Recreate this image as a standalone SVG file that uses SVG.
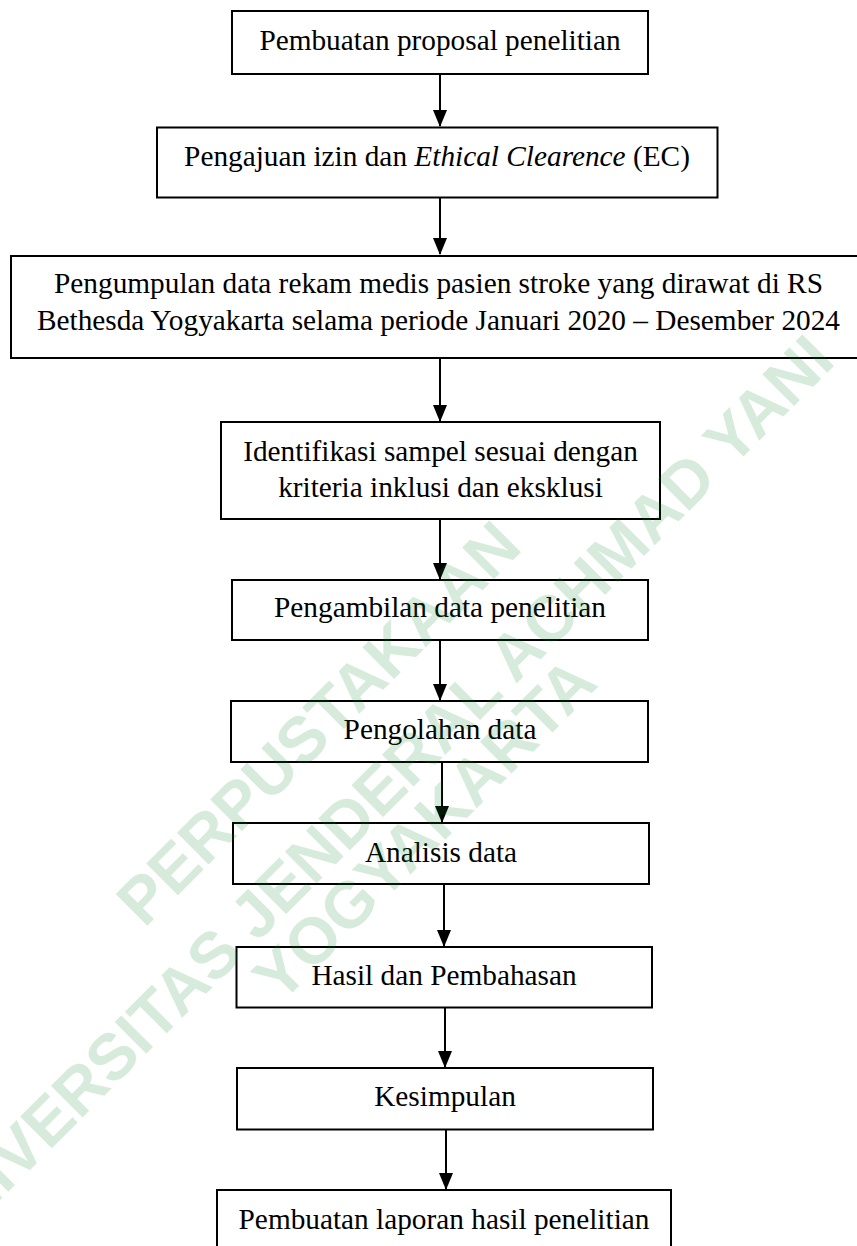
<svg xmlns="http://www.w3.org/2000/svg" width="857" height="1246" viewBox="0 0 857 1246">
<style>
  .box { fill: #ffffff; stroke: #000000; stroke-width: 2; }
  .lbl { font-family: "Liberation Serif", "Times New Roman", serif; font-size: 29.3px; fill: #000000; text-anchor: middle; }
  .conn { stroke: #000000; stroke-width: 2; fill: none; marker-end: url(#ah); }
  .wm { font-family: "Liberation Sans", Arial, sans-serif; font-weight: bold; font-size: 65px; fill: #0a8a2a; fill-opacity: 0.17; text-anchor: middle; }
</style>
<defs>
  <marker id="ah" viewBox="0 0 17 14" markerWidth="17" markerHeight="14" refX="16" refY="7" orient="auto" markerUnits="userSpaceOnUse">
    <path d="M0,0 L17,7 L0,14 z" fill="#000000"/>
  </marker>
</defs>
<rect x="0" y="0" width="857" height="1246" fill="#ffffff"/>

<g id="connectors">
  <line class="conn" x1="440" y1="75" x2="440" y2="126"/>
  <line class="conn" x1="440" y1="198" x2="440" y2="254"/>
  <line class="conn" x1="440" y1="359" x2="440" y2="421"/>
  <line class="conn" x1="440" y1="520" x2="440" y2="579"/>
  <line class="conn" x1="440" y1="641" x2="440" y2="700"/>
  <line class="conn" x1="442" y1="762" x2="442" y2="822"/>
  <line class="conn" x1="444" y1="884" x2="444" y2="946"/>
  <line class="conn" x1="445" y1="1008" x2="445" y2="1067"/>
  <line class="conn" x1="446" y1="1130" x2="446" y2="1189"/>
</g>

<g id="n1">
  <rect class="box" x="232" y="11" width="416" height="63"/>
  <text class="lbl" x="440" y="50">Pembuatan proposal penelitian</text>
</g>
<g id="n2">
  <rect class="box" x="157" y="127.5" width="560.5" height="70"/>
  <text class="lbl" x="437" y="166">Pengajuan izin dan <tspan font-style="italic">Ethical Clearence</tspan> (EC)</text>
</g>
<g id="n3">
  <rect class="box" x="11" y="256" width="855" height="102"/>
  <text class="lbl" x="438.5" y="293">Pengumpulan data rekam medis pasien stroke yang dirawat di RS</text>
  <text class="lbl" x="438.5" y="330">Bethesda Yogyakarta selama periode Januari 2020 – Desember 2024</text>
</g>
<g id="n4">
  <rect class="box" x="221" y="422" width="439" height="97"/>
  <text class="lbl" x="440.5" y="461">Identifikasi sampel sesuai dengan</text>
  <text class="lbl" x="440.5" y="497">kriteria inklusi dan eksklusi</text>
</g>
<g id="n5">
  <rect class="box" x="232" y="580" width="416" height="60"/>
  <text class="lbl" x="440" y="617">Pengambilan data penelitian</text>
</g>
<g id="n6">
  <rect class="box" x="231" y="701" width="417" height="61"/>
  <text class="lbl" x="440" y="739">Pengolahan data</text>
</g>
<g id="n7">
  <rect class="box" x="233" y="823" width="416" height="61"/>
  <text class="lbl" x="441" y="862">Analisis data</text>
</g>
<g id="n8">
  <rect class="box" x="236.5" y="947" width="415.5" height="60.5"/>
  <text class="lbl" x="444" y="985">Hasil dan Pembahasan</text>
</g>
<g id="n9">
  <rect class="box" x="237" y="1068" width="416" height="61.5"/>
  <text class="lbl" x="445" y="1106">Kesimpulan</text>
</g>
<g id="n10">
  <rect class="box" x="217" y="1190" width="454" height="70"/>
  <text class="lbl" x="444" y="1229">Pembuatan laporan hasil penelitian</text>
</g>

<g id="watermark">
  <text class="wm" transform="translate(334,739) rotate(-45)">PERPUSTAKAAN</text>
  <text class="wm" transform="translate(388,812) rotate(-45)">UNIVERSITAS JENDERAL ACHMAD YANI</text>
  <text class="wm" transform="translate(440,845) rotate(-45)">YOGYAKARTA</text>
</g>
</svg>
